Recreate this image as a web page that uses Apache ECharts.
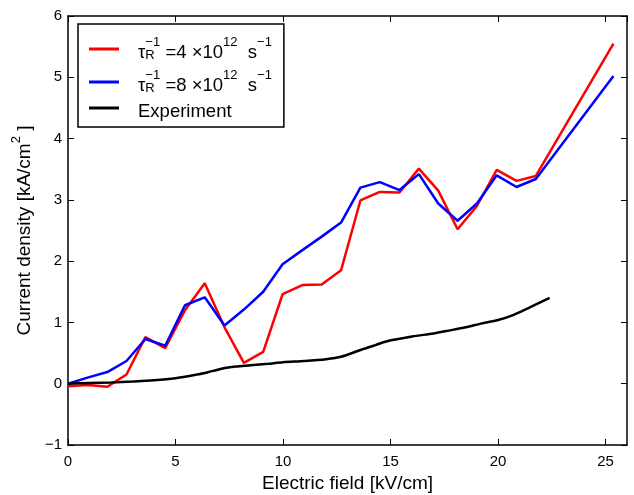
<!DOCTYPE html>
<html>
<head>
<meta charset="utf-8">
<script src="https://cdn.jsdelivr.net/npm/echarts@6/dist/echarts.min.js"></script>
<style>html,body{margin:0;padding:0;background:#fff}#c{width:634px;height:495px}</style>
</head>
<body>
<div id="c"></div>
<script>
const simX = [0, 0.91, 1.83, 2.72, 3.6, 4.52, 5.44, 6.36, 7.28, 8.18, 9.08, 9.98, 10.9, 11.8, 12.7, 13.6, 14.5, 15.42, 16.32, 17.22, 18.12, 19.02, 19.94, 20.86, 21.76, 25.37];
const red4 = [-0.04, -0.02, -0.05, 0.15, 0.76, 0.58, 1.2, 1.64, 0.92, 0.34, 0.52, 1.46, 1.61, 1.62, 1.85, 2.99, 3.13, 3.12, 3.51, 3.15, 2.52, 2.9, 3.49, 3.31, 3.39, 5.55];
const blue8 = [0.0, 0.1, 0.19, 0.37, 0.73, 0.62, 1.28, 1.41, 0.95, 1.21, 1.5, 1.95, 2.18, 2.4, 2.63, 3.2, 3.29, 3.16, 3.42, 2.94, 2.66, 2.94, 3.4, 3.21, 3.34, 5.02];
const expX = [0, 1, 2, 3, 4, 5, 6, 6.7, 7.3, 7.8, 8.5, 9.3, 10, 11, 12, 12.7, 13.6, 14.3, 14.8, 16, 17, 17.6, 18.5, 19.2, 20, 20.7, 21.5, 22.4];
const expY = [0, 0.01, 0.02, 0.035, 0.055, 0.09, 0.15, 0.205, 0.255, 0.28, 0.3, 0.325, 0.35, 0.37, 0.4, 0.44, 0.55, 0.63, 0.69, 0.77, 0.82, 0.86, 0.92, 0.98, 1.04, 1.12, 1.25, 1.40];
const xTicks = {min: 0, max: 26, interval: 5};
const yTicks = {min: -1, max: 6, interval: 1};

const zip = (xs, ys) => xs.map((x, i) => [x, ys[i]]);
const FONT = 'Liberation Sans';
const chart = echarts.init(document.getElementById('c'), null, {renderer: 'canvas'});
const axLine = {show: true, onZero: false, lineStyle: {color: '#000', width: 1.5}};
const tick = {show: true, inside: true, length: 6, lineStyle: {color: '#000', width: 1}};
const legendText = {
  s4: '{lead|τ}{sp0|−1}{sb|R}{a| =4 ×10}{sp|12}{a|  s}{sp|−1}',
  s8: '{lead|τ}{sp0|−1}{sb|R}{a| =8 ×10}{sp|12}{a|  s}{sp|−1}',
  exp: '{lead|Experiment}'
};
chart.setOption({
  animation: false,
  backgroundColor: '#fff',
  grid: {left: 68, right: 7, top: 16, bottom: 50, containLabel: false, outerBoundsMode: 'none'},
  legend: {
    orient: 'vertical', left: 78, top: 24,
    backgroundColor: '#fff', borderColor: '#000', borderWidth: 1.5, borderRadius: 0,
    padding: [12, 12, 6, 11], itemGap: 7,
    itemWidth: 30, itemHeight: 3, icon: 'rect',
    data: ['s4', 's8', 'exp'],
    formatter: n => legendText[n],
    textStyle: {
      fontFamily: FONT, color: '#000',
      rich: {
        lead: {fontFamily: FONT, fontSize: 18.5, color: '#000', lineHeight: 26, verticalAlign: 'bottom', padding: [0, 0, 0, 14]},
        a: {fontFamily: FONT, fontSize: 18.5, color: '#000', lineHeight: 26, verticalAlign: 'bottom'},
        sp: {fontFamily: FONT, fontSize: 13, color: '#000', lineHeight: 14, verticalAlign: 'top'},
        sp0: {fontFamily: FONT, fontSize: 13, color: '#000', lineHeight: 14, verticalAlign: 'top', width: 0},
        sb: {fontFamily: FONT, fontSize: 13, color: '#000', lineHeight: 12, verticalAlign: 'bottom', width: 15}
      }
    }
  },
  xAxis: [
    {type: 'value', ...xTicks, position: 'bottom', name: 'Electric field [kV/cm]', nameLocation: 'middle', nameGap: 27,
     nameTextStyle: {fontFamily: FONT, fontSize: 19, color: '#000'},
     axisLine: axLine, axisTick: tick, splitLine: {show: false},
     axisLabel: {fontFamily: FONT, fontSize: 15, color: '#000', margin: 9, showMaxLabel: false,
       formatter: v => (v % 5 === 0 ? String(v) : '')}},
    {type: 'value', ...xTicks, position: 'top', axisLine: axLine, axisTick: tick, splitLine: {show: false}, axisLabel: {show: false}}
  ],
  yAxis: [
    {type: 'value', ...yTicks, position: 'left',
     name: '{a|Current density [kA/cm}{s|2}{a| ]}', nameLocation: 'middle', nameGap: 33,
     nameTextStyle: {fontFamily: FONT, fontSize: 19, color: '#000',
       rich: {a: {fontFamily: FONT, fontSize: 19, color: '#000', lineHeight: 24, verticalAlign: 'bottom'},
              s: {fontFamily: FONT, fontSize: 13, color: '#000', lineHeight: 12, verticalAlign: 'top'}}},
     axisLine: axLine, axisTick: tick, splitLine: {show: false},
     axisLabel: {fontFamily: FONT, fontSize: 15, color: '#000', margin: 6,
       formatter: v => v < 0 ? '−' + (-v) : String(v)}},
    {type: 'value', ...yTicks, position: 'right', axisLine: axLine, axisTick: tick, splitLine: {show: false}, axisLabel: {show: false}}
  ],
  series: [
    {name: 's4', type: 'line', data: zip(simX, red4), showSymbol: false, symbol: 'none', color: '#ff0000',
     lineStyle: {color: '#ff0000', width: 2.5}, z: 3},
    {name: 's8', type: 'line', data: zip(simX, blue8), showSymbol: false, symbol: 'none', color: '#0000ff',
     lineStyle: {color: '#0000ff', width: 2.5}, z: 4},
    {name: 'exp', type: 'line', data: zip(expX, expY), showSymbol: false, symbol: 'none', smooth: 0.3, color: '#000',
     lineStyle: {color: '#000', width: 2.5}, z: 5}
  ]
});
</script>
</body>
</html>
